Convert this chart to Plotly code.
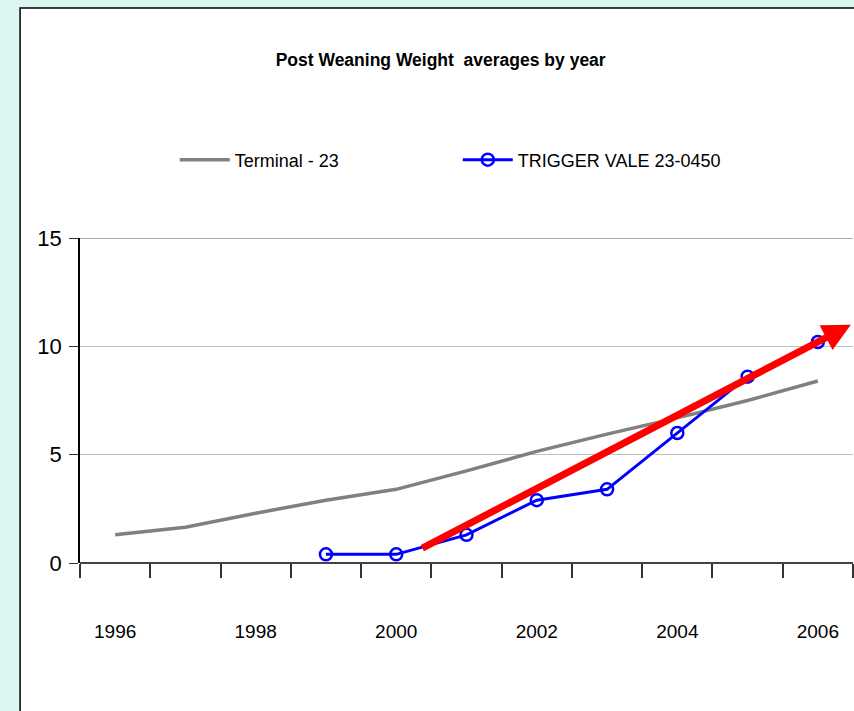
import plotly.graph_objects as go

YEARS = [1996, 1997, 1998, 1999, 2000, 2001, 2002, 2003, 2004, 2005, 2006]
TERMINAL_23 = [1.3, 1.65, 2.3, 2.9, 3.4, 4.25, 5.15, 5.95, 6.7, 7.5, 8.4]
TRIGGER_VALE = [None, None, None, 0.4, 0.4, 1.3, 2.9, 3.4, 6.0, 8.6, 10.2]
TICK_YEARS = [1996, 1998, 2000, 2002, 2004, 2006]

# hand-drawn trend arrow (tail, head) in data units
ARROW_X = [2000.35, 2006.47]
ARROW_Y = [0.65, 11.0]

FONT = "Liberation Sans, Arial, sans-serif"

fig = go.Figure()
fig.add_trace(go.Scatter(x=YEARS, y=TERMINAL_23, mode="lines", name="Terminal - 23",
                         line=dict(color="#808080", width=3.5)))
fig.add_trace(go.Scatter(x=YEARS, y=TRIGGER_VALE, mode="lines+markers",
                         name="TRIGGER VALE 23-0450",
                         line=dict(color="#0000ff", width=3),
                         marker=dict(symbol="circle-open", size=12, color="#0000ff",
                                     line=dict(width=2.5))))

fig.add_annotation(x=ARROW_X[1], y=ARROW_Y[1], ax=ARROW_X[0], ay=ARROW_Y[0],
                   xref="x", yref="y", axref="x", ayref="y", text="",
                   showarrow=True, arrowhead=2, arrowsize=0.8, arrowwidth=7,
                   arrowcolor="#ff0000")

# white chart panel with black border
fig.add_shape(type="rect", xref="paper", yref="paper", x0=-0.0775, x1=1.05,
              y0=-0.5, y1=1.7077, line=dict(color="#000", width=1.5),
              fillcolor="#fff", layer="below")
# top border of plot area at 15
fig.add_shape(type="line", xref="paper", yref="y", x0=0, x1=1, y0=15, y1=15,
              line=dict(color="#555", width=1))

fig.update_xaxes(range=[1995.5, 2006.5], tickvals=TICK_YEARS, ticks="",
                 showgrid=False, zeroline=False, showline=False,
                 ticklabelstandoff=55,
                 tickfont=dict(family=FONT, size=19, color="#000"),
                 minor=dict(tick0=1995.5, dtick=1, ticks="outside", ticklen=14,
                            tickwidth=1.5, tickcolor="#333", showgrid=False))
fig.update_yaxes(range=[0, 15], dtick=5, ticks="outside", ticklen=9, tickcolor="#333",
                 showline=True, linecolor="#000", linewidth=1.5,
                 gridcolor="#c0c0c0", gridwidth=1, zeroline=True,
                 zerolinecolor="#444", zerolinewidth=2, ticklabelstandoff=3,
                 tickfont=dict(family=FONT, size=22, color="#000"))

fig.update_layout(
    width=854, height=711,
    margin=dict(l=80, r=1, t=238, b=148),
    paper_bgcolor="#dbf5f0", plot_bgcolor="#fff",
    title=dict(text="<b>Post Weaning Weight  averages by year</b>",
               x=0.516, xanchor="center", y=0.916, yanchor="middle",
               font=dict(family=FONT, size=17.5, color="#000")),
    legend=dict(orientation="h", x=0.1226, xanchor="left", y=1.24, yanchor="middle",
                itemwidth=50, entrywidth=218, bgcolor="rgba(0,0,0,0)",
                font=dict(family=FONT, size=18, color="#000")),
)

fig.write_html("out.html", config={"displayModeBar": False},
               post_script="document.body.style.margin='0';")
